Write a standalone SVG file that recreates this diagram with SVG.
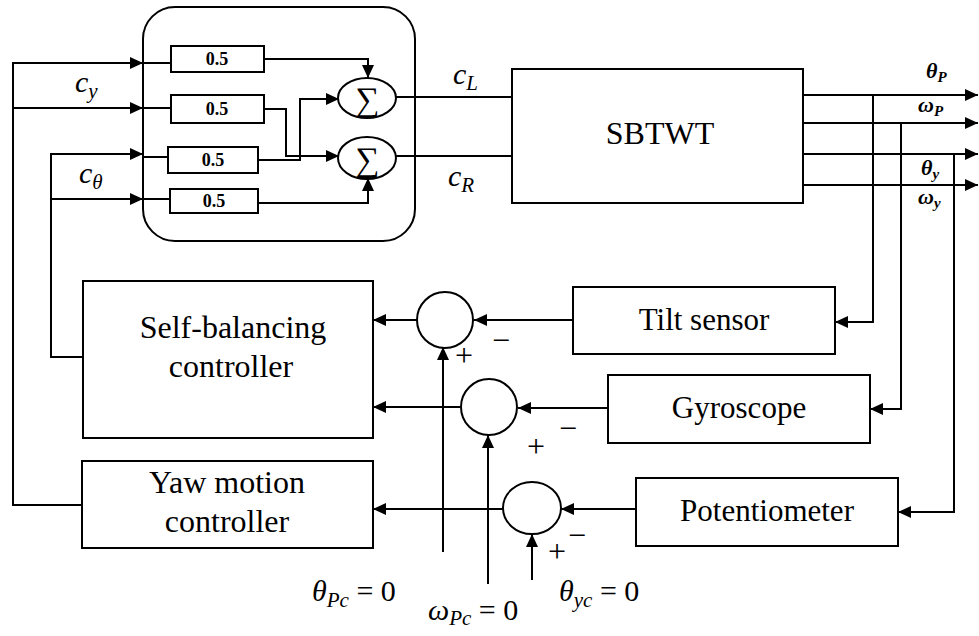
<svg xmlns="http://www.w3.org/2000/svg" width="979" height="636" viewBox="0 0 979 636">
<style>
.b{fill:#fff;stroke:#000;stroke-width:2}
.l{fill:none;stroke:#000;stroke-width:2}
.t{font-family:'Liberation Serif','DejaVu Serif',serif;fill:#000}
.s{font-family:'Liberation Serif','DejaVu Serif',serif;fill:#000;font-size:32px;text-anchor:middle}
.m{font-family:'Liberation Serif','DejaVu Serif',serif;font-style:italic;fill:#000}
.g{font-family:'Liberation Serif','DejaVu Serif',serif;font-weight:bold;font-size:18px;fill:#000}
</style>
<defs>
<marker id="a" markerUnits="userSpaceOnUse" markerWidth="14" markerHeight="12" refX="13" refY="6" orient="auto">
<path d="M0,0 L13,6 L0,12 z" fill="#000"/>
</marker>
</defs>
<rect width="979" height="636" fill="#fff"/>

<g id="connectors">
<path class="l" d="M82,505 H13 V63 H143" marker-end="url(#a)" stroke-width="2.5"/>
<path class="l" d="M13,108 H143" marker-end="url(#a)" stroke-width="2.5"/>
<path class="l" d="M82,357 H51 V154 H143" marker-end="url(#a)" stroke-width="2.5"/>
<path class="l" d="M51,199 H143" marker-end="url(#a)" stroke-width="2.5"/>
<path class="l" d="M143,63 H171 M143,108 H171 M143,157 H168 M143,199 H170" stroke-width="1.5"/>
<path class="l" d="M264,59 H368 V78" marker-end="url(#a)"/>
<path class="l" d="M264,109 H286 V156 H339" marker-end="url(#a)"/>
<path class="l" d="M258,160 H300 V99 H339" marker-end="url(#a)"/>
<path class="l" d="M258,203 H368 V178" marker-end="url(#a)"/>
<path class="l" d="M396,97 H512 M396,156 H512"/>
<path class="l" d="M803,95 H978" marker-end="url(#a)" stroke-width="2.5"/>
<path class="l" d="M803,123 H978" marker-end="url(#a)" stroke-width="2.5"/>
<path class="l" d="M803,154 H978" marker-end="url(#a)" stroke-width="2.5"/>
<path class="l" d="M803,185 H978" marker-end="url(#a)" stroke-width="2.5"/>
<path class="l" d="M873,95 V322 H835" marker-end="url(#a)"/>
<path class="l" d="M901,123 V409 H870" marker-end="url(#a)"/>
<path class="l" d="M954,154 V512 H898" marker-end="url(#a)"/>
<path class="l" d="M573,320 H474" marker-end="url(#a)" stroke-width="2.5"/>
<path class="l" d="M608,408 H518" marker-end="url(#a)" stroke-width="2.5"/>
<path class="l" d="M636,509 H561" marker-end="url(#a)" stroke-width="2.5"/>
<path class="l" d="M417,320 H373" marker-end="url(#a)" stroke-width="2.5"/>
<path class="l" d="M460,407 H373" marker-end="url(#a)" stroke-width="2.5"/>
<path class="l" d="M503,509 H373" marker-end="url(#a)" stroke-width="2.5"/>
<path class="l" d="M443,552 V347" marker-end="url(#a)" stroke-width="2.5"/>
<path class="l" d="M488,584 V435" marker-end="url(#a)" stroke-width="4"/>
<path class="l" d="M532,580 V534" marker-end="url(#a)" stroke-width="2.5"/>
</g>

<g id="mixer">
<rect x="143" y="7" width="272" height="234" rx="32" fill="none" stroke="#000" stroke-width="2"/>
</g>
<g id="gain1"><rect x="171" y="46" width="93" height="26" class="b"/><text class="g" x="217" y="65" text-anchor="middle">0.5</text></g>
<g id="gain2"><rect x="171" y="95" width="93" height="28" class="b"/><text class="g" x="217" y="115" text-anchor="middle">0.5</text></g>
<g id="gain3"><rect x="168" y="147" width="90" height="26" class="b"/><text class="g" x="213" y="166" text-anchor="middle">0.5</text></g>
<g id="gain4"><rect x="170" y="189" width="88" height="24" class="b"/><text class="g" x="214" y="207" text-anchor="middle">0.5</text></g>
<g id="sum1"><ellipse cx="367" cy="98" rx="29" ry="20" class="b"/><text class="t" x="367" y="111" font-size="34" text-anchor="middle">∑</text></g>
<g id="sum2"><ellipse cx="367" cy="158" rx="29" ry="21" class="b"/><text class="t" x="367" y="171" font-size="34" text-anchor="middle">∑</text></g>

<g id="sbtwt"><rect x="512" y="69" width="291" height="134" class="b"/><text class="t" x="660" y="144" font-size="32" text-anchor="middle">SBTWT</text></g>

<g id="selfbal"><rect x="83" y="281" width="290" height="157" class="b"/><text class="t" x="233" y="338" font-size="32" text-anchor="middle">Self-balancing</text><text class="t" x="231" y="377" font-size="32" text-anchor="middle">controller</text></g>
<g id="yaw"><rect x="82" y="461" width="291" height="87" class="b"/><text class="t" x="227" y="493" font-size="32" text-anchor="middle">Yaw motion</text><text class="t" x="227" y="532" font-size="32" text-anchor="middle">controller</text></g>

<g id="tilt"><rect x="573" y="287" width="262" height="67" class="b"/><text class="t" x="704" y="330" font-size="31" text-anchor="middle">Tilt sensor</text></g>
<g id="gyro"><rect x="608" y="375" width="262" height="68" class="b"/><text class="t" x="739" y="418" font-size="31" text-anchor="middle">Gyroscope</text></g>
<g id="pot"><rect x="636" y="478" width="262" height="68" class="b"/><text class="t" x="767" y="521" font-size="31" text-anchor="middle">Potentiometer</text></g>

<g id="cmp1"><circle cx="445" cy="320" r="28" class="b"/><text class="s" x="464" y="366">+</text><text class="s" x="501" y="351">−</text></g>
<g id="cmp2"><circle cx="489" cy="407" r="28" class="b"/><text class="s" x="536" y="457">+</text><text class="s" x="568" y="439">−</text></g>
<g id="cmp3"><ellipse cx="532" cy="508" rx="29" ry="26" class="b"/><text class="s" x="557" y="562">+</text><text class="s" x="577" y="546">−</text></g>

<g id="labels">
<text class="m" x="75" y="92" font-size="30">c<tspan font-size="21" dy="6">y</tspan></text>
<text class="m" x="79" y="183" font-size="30">c<tspan font-size="21" dy="6">θ</tspan></text>
<text class="m" x="453" y="84" font-size="30">c<tspan font-size="21" dy="6">L</tspan></text>
<text class="m" x="448" y="186" font-size="30">c<tspan font-size="21" dy="6">R</tspan></text>
<text class="m" x="926" y="78" font-size="22" font-weight="bold">θ<tspan font-size="15" dy="4">P</tspan></text>
<text class="m" x="918" y="112" font-size="22" font-weight="bold">ω<tspan font-size="15" dy="4">P</tspan></text>
<text class="m" x="921" y="175" font-size="22" font-weight="bold">θ<tspan font-size="15" dy="4">y</tspan></text>
<text class="m" x="918" y="204" font-size="22" font-weight="bold">ω<tspan font-size="15" dy="4">y</tspan></text>
<text class="m" x="312" y="601" font-size="30">θ<tspan font-size="21" dy="6">Pc</tspan><tspan font-style="normal" font-size="30" dy="-6"> = 0</tspan></text>
<text class="m" x="428" y="620" font-size="30">ω<tspan font-size="21" dy="5">Pc</tspan><tspan font-style="normal" font-size="30" dy="-5"> = 0</tspan></text>
<text class="m" x="559" y="601" font-size="30">θ<tspan font-size="21" dy="6">yc</tspan><tspan font-style="normal" font-size="30" dy="-6"> = 0</tspan></text>
</g>
</svg>
